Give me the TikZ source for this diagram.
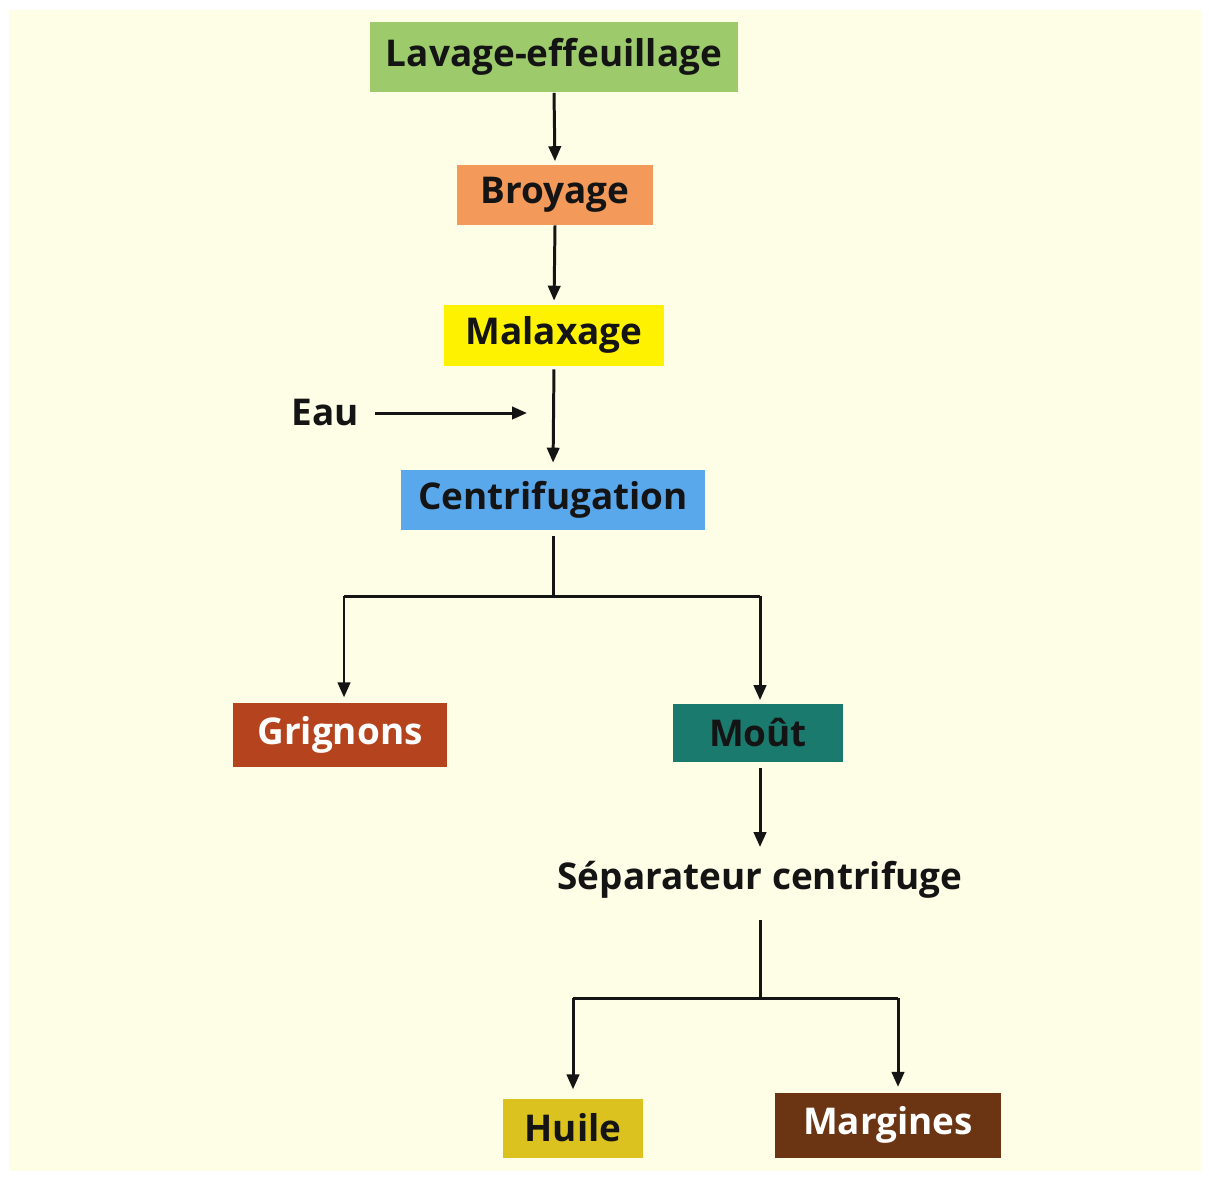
\documentclass[tikz,border=0pt]{standalone}
\usepackage{fontspec}
\setmainfont{Open Sans}
\usetikzlibrary{arrows.meta}
\definecolor{bgcream}{HTML}{FEFDE6}
\definecolor{cgreen}{HTML}{9DCB6B}
\definecolor{corange}{HTML}{F39A5A}
\definecolor{cyellow}{HTML}{FFF200}
\definecolor{cblue}{HTML}{5AA8EC}
\definecolor{crust}{HTML}{B5441E}
\definecolor{cteal}{HTML}{1B7A6E}
\definecolor{cgold}{HTML}{DCC21E}
\definecolor{cbrown}{HTML}{6B3412}
\definecolor{ink}{HTML}{141414}
\tikzset{
  px/.style={x=0.02cm,y=-0.02cm},
  boxstyle/.style={rectangle,inner sep=0pt,font=\fontsize{21}{24}\selectfont\bfseries,text=ink},
  plain/.style={inner sep=0pt,font=\fontsize{21}{24}\selectfont\bfseries,text=ink},
  conn/.style={draw=ink,line width=1.7pt},
  arr/.style={conn,-{Triangle[length=8.5pt,width=7pt]}}
}
\begin{document}
\begin{tikzpicture}[px]
\useasboundingbox (0,0) rectangle (1209,1180);
\fill[white] (0,0) rectangle (1209,1180);
\fill[bgcream] (9,10) rectangle (1201,1171);
% boxes
\node[boxstyle,fill=cgreen,minimum width=7.36cm,minimum height=1.42cm] (lav) at (554,57) {Lavage-effeuillage};
\node[boxstyle,fill=corange,minimum width=3.92cm,minimum height=1.2cm] (broy) at (555,195) {Broyage};
\node[boxstyle,fill=cyellow,minimum width=4.42cm,minimum height=1.22cm] (mal) at (554,335) {Malaxage};
\node[boxstyle,fill=cblue,minimum width=6.08cm,minimum height=1.2cm] (cent) at (553,500) {Centrifugation};
\node[boxstyle,fill=crust,text=white,minimum width=4.3cm,minimum height=1.28cm] (grig) at (340,735) {Grignons};
\node[boxstyle,fill=cteal,minimum width=3.42cm,minimum height=1.16cm] (mout) at (758,733) {Moût};
\node[plain] (sep) at (760,880) {Séparateur centrifuge};
\node[boxstyle,fill=cgold,minimum width=2.8cm,minimum height=1.18cm] (huile) at (573,1128) {Huile};
\node[boxstyle,fill=cbrown,text=white,minimum width=4.52cm,minimum height=1.3cm] (marg) at (888,1125) {Margines};
\node[plain] (eau) at (325,413) {Eau};
% coordinates
\coordinate (eaus) at (375,413);
\coordinate (eaue) at (527,413);
\coordinate (j1) at (553,596);
\coordinate (j1l) at (344,596);
\coordinate (j1r) at (760,596);
\coordinate (j2) at (760,998);
\coordinate (j2l) at (573,998);
\coordinate (j2r) at (898,998);
% connectors
\draw[arr,shorten >=2pt] (lav.south) -- (broy.north);
\draw[arr,shorten >=2pt] (broy.south) -- (mal.north);
\draw[arr,shorten >=4pt,shorten <=2pt] (mal.south) -- (cent.north);
\draw[arr] (eaus) -- (eaue);
\draw[conn,shorten <=3pt] (cent.south) -- (j1);
\draw[conn] (j1l) -- (j1r);
\draw[arr,shorten >=3pt] (j1l) -- (j1l |- grig.north);
\draw[arr,shorten >=2pt] (j1r) -- (j1r |- mout.north);
\draw[arr,shorten <=3pt,shorten >=8pt] (mout.south -| j2) -- (sep.north -| j2);
\draw[conn,shorten <=12pt] (sep.south -| j2) -- (j2);
\draw[conn] (j2l) -- (j2r);
\draw[arr,shorten >=5pt] (j2l) -- (j2l |- huile.north);
\draw[arr,shorten >=3pt] (j2r) -- (j2r |- marg.north);
\end{tikzpicture}
\end{document}
